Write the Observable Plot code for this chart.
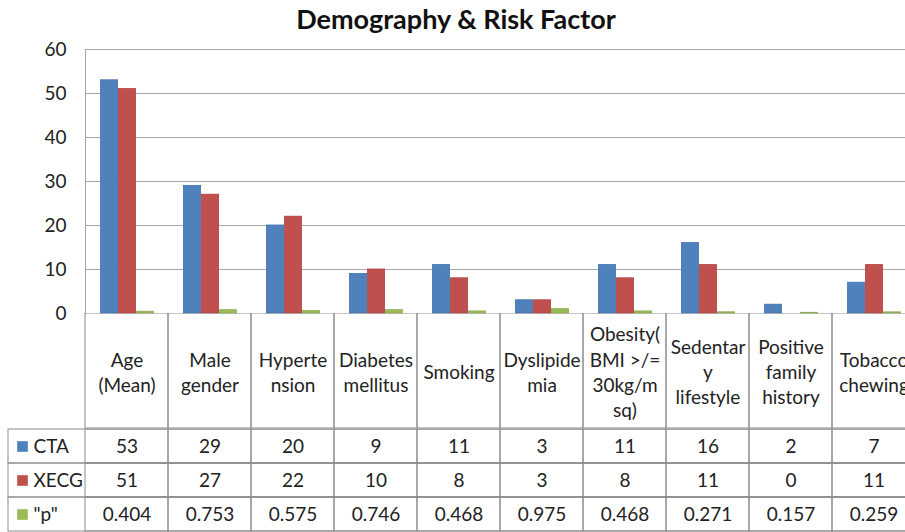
<!DOCTYPE html>
<html>
<head>
<meta charset="utf-8">
<script src="https://cdn.jsdelivr.net/npm/d3@7"></script>
<script src="https://cdn.jsdelivr.net/npm/@observablehq/plot@0.6"></script>
<style>
  html, body { margin: 0; padding: 0; background: #fff; overflow: hidden; width: 905px; height: 532px; }
  #title { width: 905px; box-sizing: border-box; padding-left: 7px; height: 34px; line-height: 38px; text-align: center;
           font-family: Lato, "Open Sans", sans-serif; font-weight: bold; font-size: 27px; color: #111; overflow: visible; }
  #chart svg { display: block; }
</style>
</head>
<body>
<div id="title">Demography &amp; Risk Factor</div>
<div id="chart"></div>
<script>
// ---- data ----
const categories = ["Age (Mean)", "Male gender", "Hypertension", "Diabetes mellitus", "Smoking",
  "Dyslipidemia", "Obesity (BMI >/= 30kg/m sq)", "Sedentary lifestyle", "Positive family history", "Tobacco chewing"];
const categoryLabels = ["Age\n(Mean)", "Male\ngender", "Hyperte\nnsion", "Diabetes\nmellitus", "Smoking",
  "Dyslipide\nmia", "Obesity(\nBMI >/=\n30kg/m\nsq)", "Sedentar\ny\nlifestyle", "Positive\nfamily\nhistory", "Tobacco\nchewing"];
const series = ["CTA", "XECG", "\"p\""];
const ctaValues = [53, 29, 20, 9, 11, 3, 11, 16, 2, 7];
const xecgValues = [51, 27, 22, 10, 8, 3, 8, 11, 0, 11];
const pValues = [0.404, 0.753, 0.575, 0.746, 0.468, 0.975, 0.468, 0.271, 0.157, 0.259];
const seriesColors = ["#4F81BD", "#C0504D", "#9BBB59"];
const seriesEdges = ["#4473AE", "#B0423F", "#8CAB4C"];
const yTicks = [0, 10, 20, 30, 40, 50, 60];

// ---- derived tables ----
const valuesBySeries = [ctaValues, xecgValues, pValues];
const long = [];
series.forEach((s, si) => categories.forEach((c, ci) => long.push({cat: c, series: s, value: valuesBySeries[si][ci]})));
const labelOf = new Map(categories.map((c, i) => [c, categoryLabels[i]]));
const edgeOf = new Map(series.map((s, i) => [s, seriesEdges[i]]));

const FONT = "Lato, 'Open Sans', sans-serif";
const GRID = "#a6a6a6";
const LINE = "#8c8c8c";
const W = 917, ML = 83, MR = 0;

const chart = Plot.plot({
  width: W, height: 291, marginLeft: ML, marginRight: MR, marginTop: 15, marginBottom: 12,
  style: {fontFamily: FONT, maxWidth: "none", color: "#222", background: "transparent"},
  fx: {domain: categories, padding: 0, axis: null},
  x: {domain: series, paddingInner: 0, paddingOuter: 0.78, axis: null},
  y: {domain: [0, 60], axis: null, label: null},
  color: {domain: series, range: seriesColors},
  marks: [
    Plot.gridY(yTicks.filter(t => t > 0), {stroke: GRID, strokeOpacity: 1}),
    Plot.barY(long, {fx: "cat", x: "series", y: "value", fill: "series",
      stroke: d => edgeOf.get(d.series), strokeWidth: 0.8, insetLeft: 0.4, insetRight: 0.4}),
    Plot.axisY({ticks: yTicks, tickSize: 0, tickPadding: 19, fontSize: 19, fill: "#222", label: null}),
    Plot.frame({anchor: "left", facet: "super", stroke: GRID})
  ]
});

const labelRow = Plot.plot({
  width: W, height: 115, marginLeft: ML, marginRight: MR, marginTop: 0, marginBottom: 0,
  style: {fontFamily: FONT, maxWidth: "none", color: "#222", background: "transparent", marginTop: "-12px"},
  x: {domain: categories, padding: 0, axis: null},
  marks: [
    Plot.cell(categories, {x: d => d, stroke: LINE, fill: "none"}),
    Plot.text(categories, {x: d => d, text: d => labelOf.get(d), fontSize: 19, lineHeight: 1.32, fill: "#222"})
  ]
});

const tableData = [];
series.forEach((s, si) => categories.forEach((c, ci) => tableData.push({cat: c, row: s, text: String(valuesBySeries[si][ci])})));

const table = Plot.plot({
  width: W, height: 104, marginLeft: ML, marginRight: MR, marginTop: 0, marginBottom: 0,
  style: {fontFamily: FONT, maxWidth: "none", color: "#222", background: "transparent"},
  x: {domain: categories, padding: 0, axis: null},
  y: {domain: series, padding: 0, axis: null},
  color: {domain: series, range: seriesColors},
  marks: [
    Plot.cell(series, {y: d => d, insetLeft: -75, stroke: LINE, fill: "none"}),
    Plot.cell(tableData, {x: "cat", y: "row", stroke: LINE, fill: "none"}),
    Plot.text(tableData, {x: "cat", y: "row", text: "text", fontSize: 19, fill: "#222"}),
    Plot.dot(series, {y: d => d, frameAnchor: "left", dx: -61, symbol: "square", r: 6, fill: d => d, stroke: null}),
    Plot.text(series, {y: d => d, frameAnchor: "left", dx: -50, textAnchor: "start", text: d => d, fontSize: 19, fill: "#222"})
  ]
});

const root = document.getElementById("chart");
root.append(chart, labelRow, table);
</script>
</body>
</html>
